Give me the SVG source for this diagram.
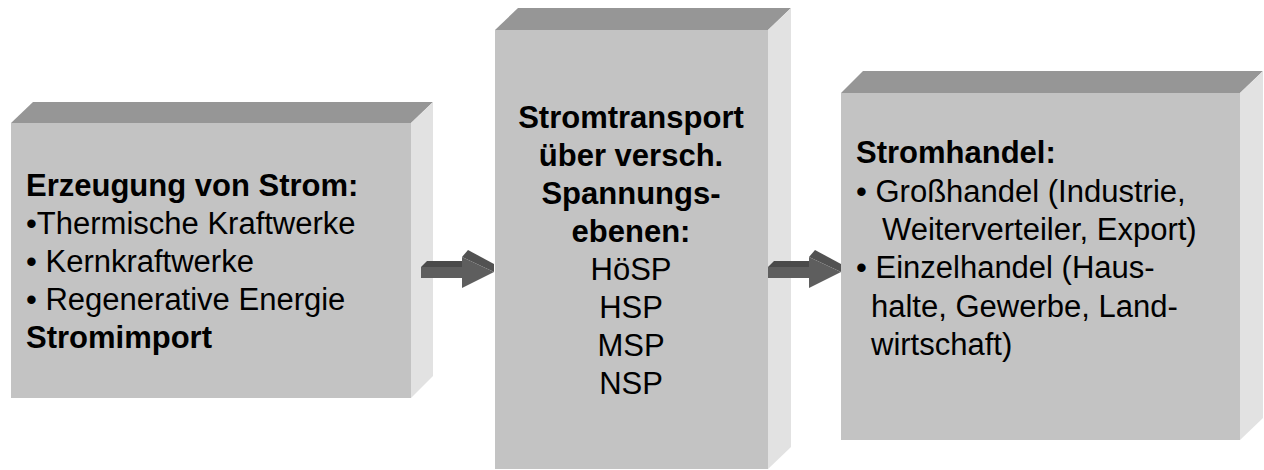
<svg xmlns="http://www.w3.org/2000/svg" width="1264" height="470" viewBox="0 0 1264 470">
<defs>
<style>
.front{fill:#c3c3c3}
.top{fill:#969696}
.side{fill:#e2e2e2}
.t{font-family:"Liberation Sans",Arial,sans-serif;font-size:31px;fill:#000}
.b{font-weight:bold}
.a-front{fill:#5e5e5e}
.a-top{fill:#4a4a4a}
.a-bevel{fill:#525252}
</style>
<g id="arrowShape">
<polygon class="a-top" points="421,267 427,261 462,261 462,267"/>
<polygon class="a-front" points="421,267 462,267 462,278 421,278"/>
<polygon class="a-bevel" points="462,257 468,250 494,264 494,272"/>
<polygon class="a-front" points="462,257 494,272 462,288"/>
</g>
</defs>
<rect width="1264" height="470" fill="#ffffff"/>

<g id="node-erzeugung">
<polygon class="top" points="11,123 33,102 433,102 411,123"/>
<polygon class="side" points="411,123 433,102 433,376 411,398"/>
<rect class="front" x="11" y="123" width="400" height="275"/>
<text class="t" x="26" y="196"><tspan class="b">Erzeugung von Strom:</tspan><tspan x="26" y="234">•Thermische Kraftwerke</tspan><tspan x="26" y="272">• Kernkraftwerke</tspan><tspan x="26" y="310">• Regenerative Energie</tspan><tspan class="b" x="26" y="348">Stromimport</tspan></text>
</g>

<g id="node-transport">
<polygon class="top" points="495,30 518,8 791,8 768,30"/>
<polygon class="side" points="768,30 791,8 791,447 768,469"/>
<rect class="front" x="495" y="30" width="273" height="439"/>
<text class="t" text-anchor="middle"><tspan class="b" x="631" y="128">Stromtransport</tspan><tspan class="b" x="631" y="166">über versch.</tspan><tspan class="b" x="631" y="204">Spannungs-</tspan><tspan class="b" x="631" y="242">ebenen:</tspan><tspan x="631" y="280">HöSP</tspan><tspan x="631" y="318">HSP</tspan><tspan x="631" y="356">MSP</tspan><tspan x="631" y="394">NSP</tspan></text>
</g>

<g id="node-handel">
<polygon class="top" points="841,93 863,71 1263,71 1240,93"/>
<polygon class="side" points="1240,93 1263,71 1263,418 1240,440"/>
<rect class="front" x="841" y="93" width="399" height="347"/>
<text class="t" x="856" y="163"><tspan class="b">Stromhandel:</tspan><tspan x="856" y="202">• Großhandel (Industrie,</tspan><tspan x="882" y="240">Weiterverteiler, Export)</tspan><tspan x="856" y="278">• Einzelhandel (Haus-</tspan><tspan x="871" y="317">halte, Gewerbe, Land-</tspan><tspan x="871" y="355">wirtschaft)</tspan></text>
</g>

<g id="connectors">
<use href="#arrowShape"/>
<use href="#arrowShape" transform="translate(347,0)"/>
</g>
</svg>
